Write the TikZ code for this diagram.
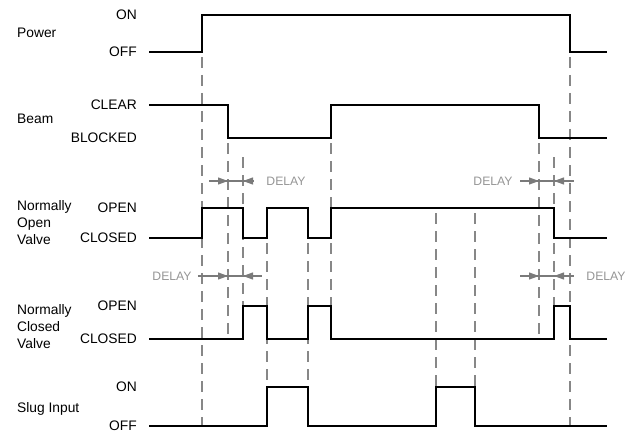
\documentclass[tikz,border=0pt]{standalone}
\usepackage{fontspec}
\setmainfont{Liberation Sans}
\usetikzlibrary{arrows.meta}
\definecolor{dashgray}{HTML}{878787}
\definecolor{arrgray}{HTML}{7A7A7A}
\definecolor{txtgray}{HTML}{959595}
\begin{document}
\begin{tikzpicture}[x=1pt,y=-1pt,
  sig/.style={line width=1.7pt, line join=miter},
  guide/.style={dashgray, line width=1.8pt, dash pattern=on 11pt off 7pt, dash phase=13pt},
  lvl/.style={font=\fontsize{13.8}{17}\selectfont, inner sep=0pt, anchor=east},
  sname/.style={font=\fontsize{13.8}{17}\selectfont, inner sep=0pt, anchor=west, align=left},
  dly/.style={text=txtgray, font=\fontsize{12.2}{14}\selectfont, inner sep=0pt},
  dimline/.style={arrgray, line width=1.1pt},
  tipr/.style={arrgray, line width=1.1pt, -{Triangle[length=10pt,width=7pt]}}
]
\useasboundingbox (0,0) rectangle (634,433);

% level labels
\node[lvl] (pon)  at (137,15)  {ON};
\node[lvl] (poff) at (137,52)  {OFF};
\node[lvl] (bcl)  at (137,105) {CLEAR};
\node[lvl] (bbl)  at (137,138) {BLOCKED};
\node[lvl] (noo)  at (137,208) {OPEN};
\node[lvl] (noc)  at (137,238) {CLOSED};
\node[lvl] (nco)  at (137,306) {OPEN};
\node[lvl] (ncc)  at (137,339) {CLOSED};
\node[lvl] (son)  at (137,387) {ON};
\node[lvl] (soff) at (137,426) {OFF};

% signal names
\node[sname] (npow)  at (17,33)  {Power};
\node[sname] (nbeam) at (17,119) {Beam};
\node[sname] (nnov)  at (17,223) {Normally\\Open\\Valve};
\node[sname] (nncv)  at (17,327) {Normally\\Closed\\Valve};
\node[sname] (nslug) at (17,409) {Slug Input};

% dashed guides
\draw[guide] (202,52) -- (202,426);
\draw[guide] (228,138) -- (228,339);
\draw[guide] (243,152) -- (243,306);
\draw[guide] (267,238) -- (267,387);
\draw[guide] (308,238) -- (308,387);
\draw[guide] (331,138) -- (331,208);
\draw[guide] (331,238) -- (331,306);
\draw[guide] (436,208) -- (436,387);
\draw[guide] (475,208) -- (475,387);
\draw[guide] (539,138) -- (539,339);
\draw[guide] (554,152) -- (554,208);
\draw[guide] (554,238) -- (554,306);
\draw[guide] (570,52) -- (570,426);

% delay markers
\node[dly] (d1) at (286,181) {DELAY};
\draw[dimline] (209,181) -- (253,181);
\draw[tipr] (216,181) -- (228,181);
\draw[tipr] (253,181) -- (243,181);

\node[dly] (d2) at (172,276) {DELAY};
\draw[dimline] (d2.east) ++(6,0) -- (262,276);
\draw[tipr] (214,276) -- (228,276);
\draw[tipr] (258,276) -- (243,276);

\node[dly] (d3) at (493,181) {DELAY};
\draw[dimline] (520,181) -- (574,181);
\draw[tipr] (526,181) -- (539,181);
\draw[tipr] (568,181) -- (554,181);

\node[dly] (d4) at (606,276) {DELAY};
\draw[dimline] (520,276) -- (574,276);
\draw[tipr] (526,276) -- (539,276);
\draw[tipr] (568,276) -- (554,276);

% signals
\draw[sig] (149,52) -- (202,52) -- (202,15) -- (570,15) -- (570,52) -- (607,52);
\draw[sig] (149,105) -- (228,105) -- (228,138) -- (331,138) -- (331,105) -- (539,105) -- (539,138) -- (607,138);
\draw[sig] (149,238) -- (202,238) -- (202,208) -- (243,208) -- (243,238) -- (267,238) -- (267,208) -- (308,208) -- (308,238) -- (331,238) -- (331,208) -- (554,208) -- (554,238) -- (607,238);
\draw[sig] (149,339) -- (243,339) -- (243,306) -- (267,306) -- (267,339) -- (308,339) -- (308,306) -- (331,306) -- (331,339) -- (554,339) -- (554,306) -- (570,306) -- (570,339) -- (607,339);
\draw[sig] (149,426) -- (267,426) -- (267,387) -- (308,387) -- (308,426) -- (436,426) -- (436,387) -- (475,387) -- (475,426) -- (607,426);
\end{tikzpicture}
\end{document}
